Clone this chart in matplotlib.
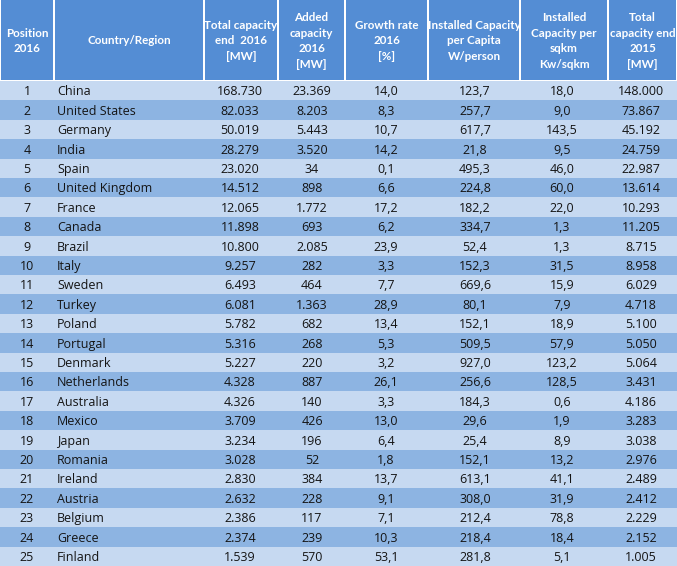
import matplotlib
matplotlib.use('Agg')
import matplotlib.pyplot as plt
from matplotlib.patches import Rectangle

plt.rcParams["font.family"] = ["Lato", "DejaVu Sans"]

# 表格数据
positions = list(range(1, 26))
countries = ["China", "United States", "Germany", "India", "Spain", "United Kingdom",
             "France", "Canada", "Brazil", "Italy", "Sweden", "Turkey", "Poland",
             "Portugal", "Denmark", "Netherlands", "Australia", "Mexico", "Japan",
             "Romania", "Ireland", "Austria", "Belgium", "Greece", "Finland"]
total_2016 = ["168.730", "82.033", "50.019", "28.279", "23.020", "14.512", "12.065",
              "11.898", "10.800", "9.257", "6.493", "6.081", "5.782", "5.316", "5.227",
              "4.328", "4.326", "3.709", "3.234", "3.028", "2.830", "2.632", "2.386",
              "2.374", "1.539"]
added_2016 = ["23.369", "8.203", "5.443", "3.520", "34", "898", "1.772", "693", "2.085",
              "282", "464", "1.363", "682", "268", "220", "887", "140", "426", "196",
              "52", "384", "228", "117", "239", "570"]
growth_2016 = ["14,0", "8,3", "10,7", "14,2", "0,1", "6,6", "17,2", "6,2", "23,9", "3,3",
               "7,7", "28,9", "13,4", "5,3", "3,2", "26,1", "3,3", "13,0", "6,4", "1,8",
               "13,7", "9,1", "7,1", "10,3", "53,1"]
per_capita = ["123,7", "257,7", "617,7", "21,8", "495,3", "224,8", "182,2", "334,7",
              "52,4", "152,3", "669,6", "80,1", "152,1", "509,5", "927,0", "256,6",
              "184,3", "29,6", "25,4", "152,1", "613,1", "308,0", "212,4", "218,4", "281,8"]
per_sqkm = ["18,0", "9,0", "143,5", "9,5", "46,0", "60,0", "22,0", "1,3", "1,3", "31,5",
            "15,9", "7,9", "18,9", "57,9", "123,2", "128,5", "0,6", "1,9", "8,9", "13,2",
            "41,1", "31,9", "78,8", "18,4", "5,1"]
total_2015 = ["148.000", "73.867", "45.192", "24.759", "22.987", "13.614", "10.293",
              "11.205", "8.715", "8.958", "6.029", "4.718", "5.100", "5.050", "5.064",
              "3.431", "4.186", "3.283", "3.038", "2.976", "2.489", "2.412", "2.229",
              "2.152", "1.005"]
headers = ["Position\n2016", "Country/Region", "Total capacity\nend  2016\n[MW]",
           "Added\ncapacity\n2016\n[MW]", "Growth rate\n2016\n[%]",
           "Installed Capacity\nper Capita\nW/person",
           "Installed\nCapacity per\nsqkm\nKw/sqkm", "Total\ncapacity end\n2015\n[MW]"]

# 布局（像素）
W, H = 677, 566
col_edges = [0, 54, 204, 278, 345, 428, 520, 608, 677]
header_h = 80
row_h = (H - header_h - 1) / 25
col_x = [27, 57, 240, 312, 386, 475, 562, 641]
col_ha = ["center", "left", "center", "center", "center", "center", "center", "center"]

header_color = "#548DD4"
light_row = "#C6D9F1"
dark_row = "#8DB4E2"
text_color = "#141414"

fig = plt.figure(figsize=(W / 100, H / 100), dpi=100)
ax = fig.add_axes([0, 0, 1, 1])
ax.set_xlim(0, W)
ax.set_ylim(H, 0)
ax.axis('off')

# 表头
for i in range(8):
    x0, x1 = col_edges[i], col_edges[i + 1]
    ax.add_patch(Rectangle((x0 + 1, 0), x1 - x0 - 2, header_h, color=header_color, lw=0))
    ax.text((x0 + x1) / 2, header_h / 2 + 1, headers[i], ha='center', va='center',
            color='white', fontsize=8.4, fontweight='bold', linespacing=1.55)

# 数据行
columns = [[str(p) for p in positions], countries, total_2016, added_2016,
           growth_2016, per_capita, per_sqkm, total_2015]
for r in range(25):
    y0 = header_h + 1 + r * row_h
    ax.add_patch(Rectangle((0, y0), W, row_h,
                           color=light_row if r % 2 == 0 else dark_row, lw=0))
    for c in range(8):
        ax.text(col_x[c], y0 + row_h / 2 + 1.2, columns[c][r], ha=col_ha[c], va='center',
                color=text_color, fontsize=9.0, family=["Open Sans", "DejaVu Sans"])

# Finland 1.539 的选中高亮
y_last = header_h + 1 + 24 * row_h
ax.add_patch(Rectangle((223, y_last + 4), 34, row_h - 7, color="#A7C3E8", lw=0, zorder=0.5))

fig.savefig("out.png", dpi=100)
